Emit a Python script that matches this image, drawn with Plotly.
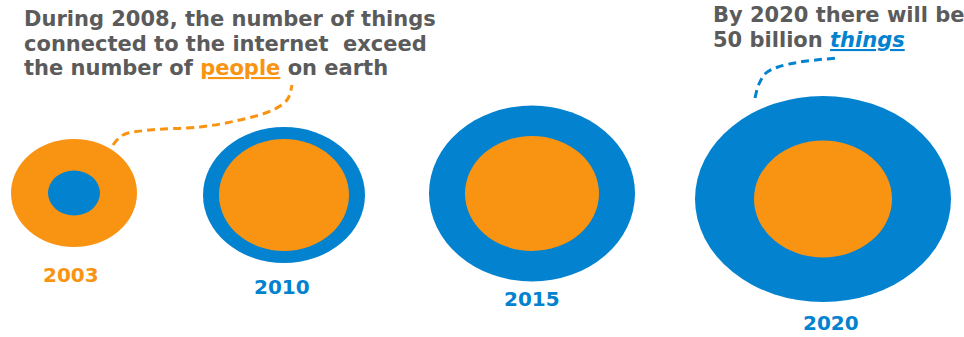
import plotly.graph_objects as go

# ---- data ----
years = ["2003", "2010", "2015", "2020"]
# half-axes of the "things" (blue) and "people" (orange) discs, in chart units
things_rx = [26, 81, 103, 128]
things_ry = [22.5, 68, 88, 103]
people_rx = [63, 65, 67, 69]
people_ry = [54, 56, 57.5, 58.5]

left_lines = ["During 2008, the number of things",
              "connected to the internet  exceed",
              "the number of {people} on earth"]
right_lines = ["By 2020 there will be", "50 billion {things}"]

# ---- layout helpers ----
cx = [74, 284, 532, 823]
cy = [193, 195, 193.5, 199]
label_x = [71, 282, 532, 831]
label_y = [275, 287, 299, 323]

ORANGE = "#F99412"
BLUE = "#0282CF"
GREY = "#5B5B5B"
FONT = "DejaVu Sans"

fig = go.Figure()

# dashed connectors
fig.add_trace(go.Scatter(
    x=[113, 123, 150, 200, 240, 273, 287, 292], y=[145, 135, 130, 127, 120, 110, 100, 85],
    mode="lines", line=dict(color=ORANGE, width=3, dash="8px,5px", shape="spline"),
    hoverinfo="skip", showlegend=False))
fig.add_trace(go.Scatter(
    x=[755, 759, 766, 778, 800, 837], y=[98, 84, 73, 67, 62, 58],
    mode="lines", line=dict(color=BLUE, width=3, dash="8px,5px", shape="spline"),
    hoverinfo="skip", showlegend=False))

shapes = []
for i, yr in enumerate(years):
    discs = [(things_rx[i], things_ry[i], BLUE), (people_rx[i], people_ry[i], ORANGE)]
    discs.sort(key=lambda d: -d[0] * d[1])
    for rx, ry, col in discs:
        shapes.append(dict(type="circle", xref="x", yref="y",
                           x0=cx[i] - rx, x1=cx[i] + rx, y0=cy[i] - ry, y1=cy[i] + ry,
                           fillcolor=col, line=dict(width=0), layer="above"))

annotations = []
for i, yr in enumerate(years):
    col = ORANGE if things_rx[i] < people_rx[i] else BLUE
    annotations.append(dict(x=label_x[i], y=label_y[i], xref="x", yref="y", text=f"<b>{yr}</b>",
                            showarrow=False, xanchor="center", yanchor="middle",
                            font=dict(family=FONT, size=20, color=col)))

people_html = f'<span style="color:{ORANGE};text-decoration:underline">people</span>'
things_html = f'<i><span style="color:{BLUE};text-decoration:underline">things</span></i>'

for j, line in enumerate(left_lines):
    annotations.append(dict(x=22, y=19 + j * 24.5, xref="x", yref="y",
                            text="<b>" + line.format(people=people_html) + "</b>",
                            showarrow=False, xanchor="left", yanchor="middle",
                            font=dict(family=FONT, size=21, color=GREY)))
for j, line in enumerate(right_lines):
    annotations.append(dict(x=711, y=15 + j * 24.5, xref="x", yref="y",
                            text="<b>" + line.format(things=things_html) + "</b>",
                            showarrow=False, xanchor="left", yanchor="middle",
                            font=dict(family=FONT, size=21, color=GREY)))

fig.update_layout(
    width=964, height=337, margin=dict(l=0, r=0, t=0, b=0),
    paper_bgcolor="white", plot_bgcolor="white",
    xaxis=dict(range=[0, 964], visible=False, fixedrange=True),
    yaxis=dict(range=[337, 0], visible=False, fixedrange=True),
    shapes=shapes, annotations=annotations, showlegend=False,
)

fig.write_html("out.html", config={"displayModeBar": False},
               post_script="document.body.style.margin='0px';document.body.style.overflow='hidden';")
